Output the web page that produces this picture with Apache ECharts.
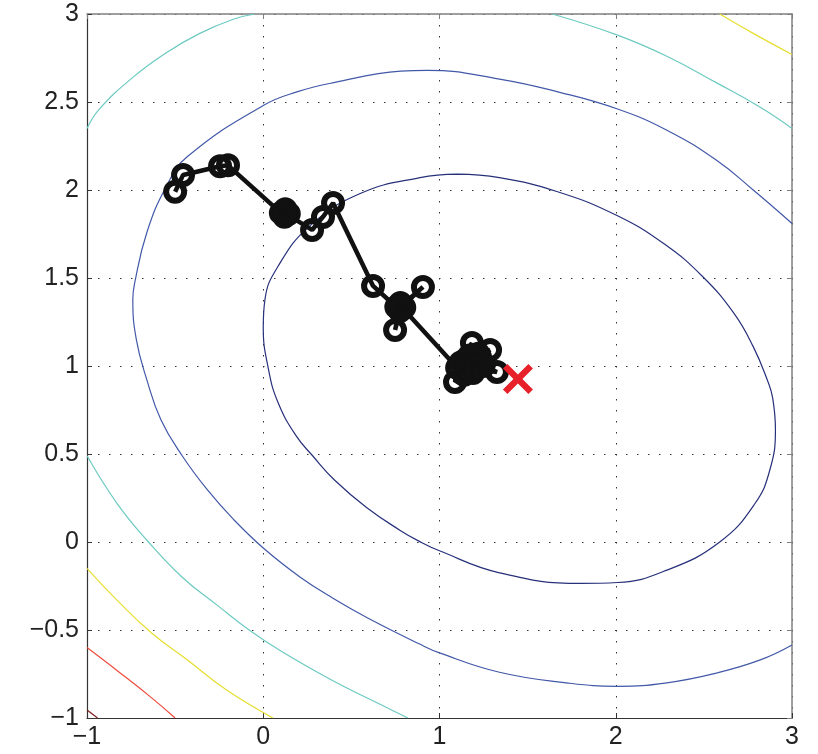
<!DOCTYPE html>
<html>
<head>
<meta charset="utf-8">
<script src="https://cdn.jsdelivr.net/npm/echarts@6/dist/echarts.min.js"></script>
<style>
html,body{margin:0;padding:0;background:#fff;}
#chart{width:818px;height:754px;}
</style>
</head>
<body>
<div id="chart"></div>
<script>
// ---- data ----
const xTicks = [-1, 0, 1, 2, 3];
const yTicks = [-1, -0.5, 0, 0.5, 1, 1.5, 2, 2.5, 3];

// contour level lines (x, y pairs)
const contourInner = [
  [1.10, 2.09], [1.34, 2.07], [1.67, 1.99], [2.007, 1.855], [2.28, 1.69], [2.494, 1.507],
  [2.67, 1.30], [2.78, 1.11], [2.86, 0.92], [2.89, 0.82], [2.906, 0.641], [2.875, 0.412],
  [2.788, 0.216], [2.59, 0.00], [2.29, -0.16], [2.01, -0.23], [1.80, -0.235], [1.341, -0.175],
  [1.00, -0.05], [0.883, 0.005], [0.777, 0.066], [0.586, 0.196], [0.404, 0.352], [0.28, 0.49],
  [0.186, 0.604], [0.085, 0.79], [0.03, 0.98], [0.00, 1.22], [0.01, 1.38], [0.08, 1.56],
  [0.263, 1.795], [0.55, 1.98], [0.89, 2.07], [1.10, 2.09]
];
const contourSecond = [
  [3.00, 1.81], [2.78, 2.00], [2.57, 2.17], [2.29, 2.34], [2.01, 2.46], [1.682, 2.555],
  [1.34, 2.63], [0.93, 2.68], [0.78, 2.675], [0.40, 2.61], [0.20, 2.56], [0.00, 2.48],
  [-0.43, 2.19], [-0.55, 2.02], [-0.66, 1.76], [-0.73, 1.47], [-0.74, 1.38], [-0.72, 1.15],
  [-0.66, 0.92], [-0.58, 0.693], [-0.46, 0.49], [-0.32, 0.30], [-0.17, 0.13], [0.01, -0.043],
  [0.21, -0.20], [0.393, -0.318], [0.59, -0.43], [0.8875, -0.58], [1.00, -0.63], [1.34, -0.74],
  [1.72, -0.80], [2.01, -0.82], [2.29, -0.80], [2.57, -0.745], [2.82, -0.67], [3.00, -0.585]
];
const contourCyanTL = [[-1, 2.35], [-0.93, 2.46], [-0.74, 2.64], [-0.55, 2.78], [-0.36, 2.89], [-0.17, 2.97], [-0.05, 3.0]];
const contourCyanTR = [[1.64, 3.0], [2.01, 2.88], [2.29, 2.76], [2.57, 2.61], [2.82, 2.47], [3.0, 2.35]];
const contourCyanBL = [[-1, 0.49], [-0.83, 0.22], [-0.66, 0.01], [-0.46, -0.20], [-0.26, -0.36], [-0.08, -0.50], [0.107, -0.624], [0.39, -0.786], [0.5875, -0.885], [0.82, -1.0]];
const contourYellowTR = [[2.59, 3.0], [2.78, 2.89], [3.0, 2.77]];
const contourYellowBL = [[-1, -0.15], [-0.83, -0.33], [-0.63, -0.52], [-0.43, -0.67], [-0.21, -0.84], [0.055, -1.0]];
const contourRed = [[-1, -0.60], [-0.83, -0.73], [-0.64, -0.88], [-0.50, -1.0]];
const contourDarkRed = [[-1, -0.955], [-0.94, -1.0]];

// optimisation path (iterates)
const pathPoints = [
  [-0.50, 1.99], [-0.455, 2.085], [-0.245, 2.135], [-0.20, 2.14],
  [0.10, 1.87], [0.125, 1.89], [0.145, 1.865], [0.12, 1.848], [0.123, 1.869],
  [0.277, 1.773], [0.339, 1.847], [0.396, 1.926], [0.623, 1.455],
  [0.755, 1.335], [0.778, 1.358], [0.80, 1.333], [0.776, 1.312],
  [0.748, 1.205], [0.776, 1.335], [0.906, 1.449], [0.785, 1.335],
  [1.10, 0.99], [1.088, 0.909], [1.14, 0.95], [1.19, 0.96], [1.145, 1.034], [1.12, 1.02],
  [1.184, 1.131], [1.17, 1.06], [1.23, 1.05], [1.287, 1.091], [1.22, 1.07], [1.20, 1.00],
  [1.25, 1.00], [1.326, 0.966], [1.16, 0.99], [1.21, 0.99]
];
// optimum
const optimum = [[1.445, 0.926]];

// ---- chart ----
const chart = echarts.init(document.getElementById('chart'));
const FONT = 'Liberation Sans, Arial, Helvetica, sans-serif';
const fmt = v => String(v).replace('-', '\u2212');

function contour(data, color) {
  return {
    type: 'line', data: data, showSymbol: false, smooth: 0.45, silent: true,
    lineStyle: { color: color, width: 1.2 }, z: 1, animation: false
  };
}

const xCommon = { type: 'value', min: -1, max: 3, interval: 1 };
const yCommon = { type: 'value', min: -1, max: 3, interval: 0.5 };

chart.setOption({
  animation: false,
  backgroundColor: '#fff',
  grid: { left: 87, right: 26, top: 14, bottom: 36, containLabel: false },
  xAxis: [
    Object.assign({}, xCommon, {
      position: 'bottom',
      axisLine: { show: true, onZero: false, lineStyle: { color: '#333', width: 1.2 } },
      axisTick: { show: true, inside: true, length: 5, lineStyle: { color: '#333' } },
      axisLabel: { formatter: fmt, fontFamily: FONT, fontSize: 25, color: '#222', margin: 7 },
      splitLine: { show: true, lineStyle: { color: '#333', type: [1.5, 9.5], width: 1 } }
    }),
    Object.assign({}, xCommon, {
      position: 'top',
      axisLine: { show: true, onZero: false, lineStyle: { color: '#808080', width: 1.5 } },
      axisTick: { show: true, inside: true, length: 5, lineStyle: { color: '#808080' } },
      axisLabel: { show: false }, splitLine: { show: false }
    })
  ],
  yAxis: [
    Object.assign({}, yCommon, {
      position: 'left',
      axisLine: { show: true, onZero: false, lineStyle: { color: '#333', width: 1.2 } },
      axisTick: { show: true, inside: true, length: 5, lineStyle: { color: '#333' } },
      axisLabel: { formatter: fmt, fontFamily: FONT, fontSize: 25, color: '#222', margin: 8 },
      splitLine: { show: true, lineStyle: { color: '#333', type: [1.5, 9.5], width: 1 } }
    }),
    Object.assign({}, yCommon, {
      position: 'right',
      axisLine: { show: true, onZero: false, lineStyle: { color: '#808080', width: 1.5 } },
      axisTick: { show: true, inside: true, length: 5, lineStyle: { color: '#808080' } },
      axisLabel: { show: false }, splitLine: { show: false }
    })
  ],
  series: [
    contour(contourInner, '#27307a'),
    contour(contourSecond, '#4258a8'),
    contour(contourCyanTL, '#6ccac1'),
    contour(contourCyanTR, '#6ccac1'),
    contour(contourCyanBL, '#6ccac1'),
    contour(contourYellowTR, '#e6de30'),
    contour(contourYellowBL, '#e6de30'),
    contour(contourRed, '#ef4a3c'),
    contour(contourDarkRed, '#7d2020'),
    {
      type: 'line', data: pathPoints, z: 5, silent: true,
      symbol: 'circle', symbolSize: 18, showAllSymbol: true,
      lineStyle: { color: '#111', width: 4.5 },
      itemStyle: { color: 'rgba(0,0,0,0)', borderColor: '#111', borderWidth: 6, opacity: 1 }
    },
    {
      type: 'scatter', data: optimum, z: 6, silent: true,
      symbol: 'path://M3,0 L10,7 L17,0 L20,3 L13,10 L20,17 L17,20 L10,13 L3,20 L0,17 L7,10 L0,3 Z',
      symbolSize: 30,
      itemStyle: { color: '#e8202a', opacity: 1 }
    }
  ]
});
</script>
</body>
</html>
